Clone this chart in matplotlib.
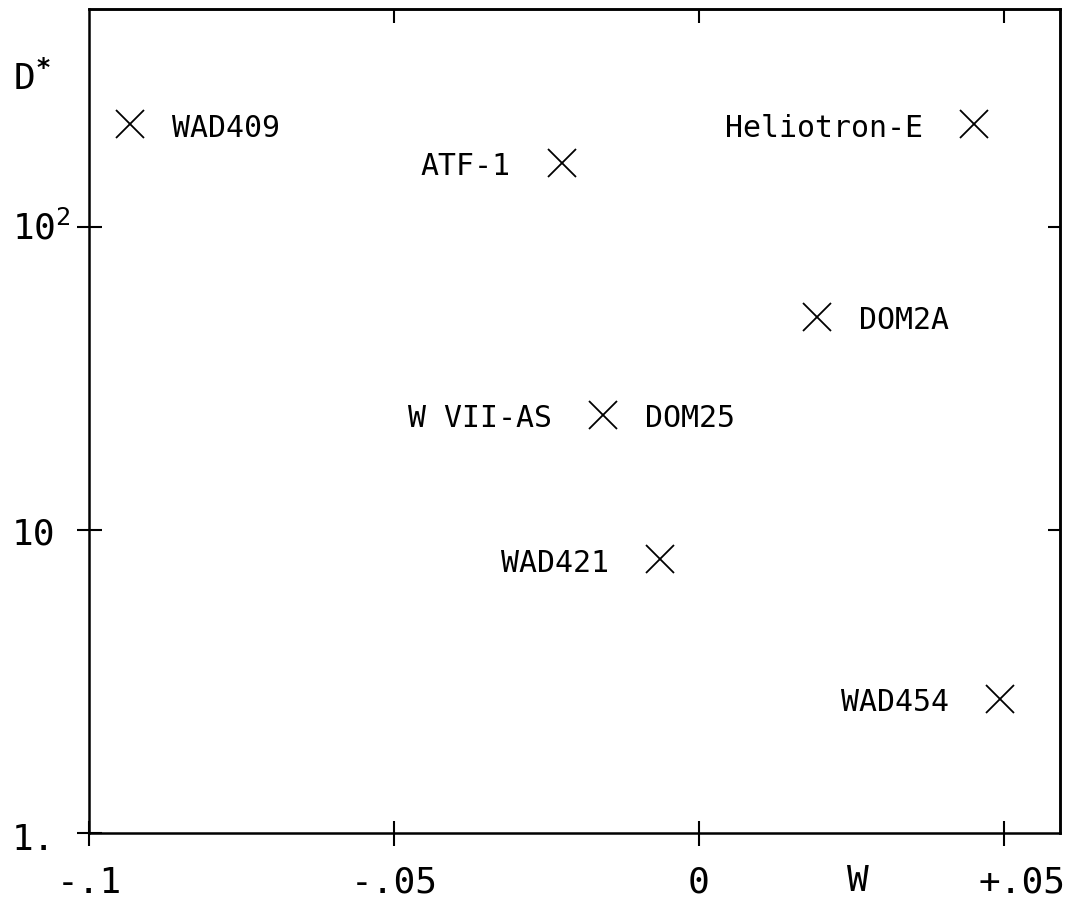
import matplotlib
matplotlib.use("Agg")
import matplotlib.pyplot as plt
from matplotlib.transforms import ScaledTranslation
from matplotlib.ticker import FixedLocator, NullLocator

plt.rcParams['font.family'] = ['DejaVu Sans Mono']
plt.rcParams['mathtext.fontset'] = 'custom'
plt.rcParams['mathtext.rm'] = 'DejaVu Sans Mono'
plt.rcParams['mathtext.it'] = 'DejaVu Sans Mono'
plt.rcParams['mathtext.bf'] = 'DejaVu Sans Mono:bold'

# configurations: rotational transform W and figure of merit D*
names = ['WAD409', 'ATF-1', 'Heliotron-E', 'DOM2A', 'W VII-AS', 'WAD421', 'WAD454']
w_vals = [-0.0933, -0.0225, 0.0451, 0.0194, -0.0157, -0.0064, 0.0494]
d_vals = [218, 163, 218, 50.5, 24.0, 8.0, 2.77]
# which side of the marker each name is written on
sides = ['right', 'left', 'left', 'right', 'left', 'left', 'left']
# second label sharing the W VII-AS point
extra_name = 'DOM25'

x_ticks = [-0.1, -0.05, 0.0, 0.05]
x_ticklabels = ['-.1', '-.05', '0', '+.05']
y_ticks = [1, 10, 100]
y_ticklabels = ['1.', '10', '10$^2$']
top_ticks = [-0.05, 0.0, 0.05]
right_ticks = [10, 100]

fig = plt.figure(figsize=(10.68, 9.04), dpi=100)
ax = fig.add_axes([89 / 1068, 1 - 834 / 904, 971 / 1068, 824 / 904])

ax.set_xscale('linear')
ax.set_yscale('log')
ax.set_xlim(-0.1, 0.0592)
ax.set_ylim(1, 524)

for s in ax.spines.values():
    s.set_linewidth(1.8)

ax.plot(w_vals, d_vals, linestyle='none', marker='x', markersize=20,
        markeredgewidth=1.3, color='black')

for name, w, d, side in zip(names, w_vals, d_vals, sides):
    if side == 'right':
        ax.annotate(name, (w, d), xytext=(30, 0), textcoords='offset points',
                    ha='left', va='center_baseline', fontsize=21.5)
    else:
        ax.annotate(name, (w, d), xytext=(-37, 0), textcoords='offset points',
                    ha='right', va='center_baseline', fontsize=21.5)
ax.annotate(extra_name, (w_vals[4], d_vals[4]), xytext=(30, 0),
            textcoords='offset points', ha='left', va='center_baseline',
            fontsize=21.5)

# bottom / left axes: crossing ticks with labels
ax.xaxis.set_major_locator(FixedLocator(x_ticks))
ax.set_xticklabels(x_ticklabels)
ax.yaxis.set_major_locator(FixedLocator(y_ticks))
ax.yaxis.set_minor_locator(NullLocator())
ax.set_yticklabels(y_ticklabels)
ax.tick_params(axis='both', which='major', direction='inout', length=18,
               width=1.5, labelsize=26, top=False, right=False)
ax.tick_params(axis='x', pad=14)
ax.tick_params(axis='y', pad=46.4)
for lab in ax.get_yticklabels():
    lab.set_horizontalalignment('left')

# top / right: short inward ticks only
sec_x = ax.secondary_xaxis('top')
sec_x.set_xticks(top_ticks)
sec_x.tick_params(direction='in', length=10, width=1.5, labeltop=False)
sec_y = ax.secondary_yaxis('right')
sec_y.set_yticks(right_ticks)
sec_y.yaxis.set_minor_locator(NullLocator())
sec_y.tick_params(direction='in', length=9, width=1.5, labelright=False)
sec_y.tick_params(which='minor', length=0)
for s in list(sec_x.spines.values()) + list(sec_y.spines.values()):
    s.set_linewidth(1.8)

# nudge the superscripted label and the "+.05" label
ytk = ax.yaxis.get_major_ticks()[2]
ytk.label1.set_transform(ytk.label1.get_transform()
                         + ScaledTranslation(0, 0.03, fig.dpi_scale_trans))
ytk = ax.yaxis.get_major_ticks()[0]
ytk.label1.set_transform(ytk.label1.get_transform()
                         + ScaledTranslation(0, -0.03, fig.dpi_scale_trans))
xtk = ax.xaxis.get_major_ticks()[3]
xtk.label1.set_transform(xtk.label1.get_transform()
                         + ScaledTranslation(0.18, 0, fig.dpi_scale_trans))

ax.set_xlabel('W', fontsize=26)
ax.xaxis.set_label_coords(0.792, -0.0522)
ax.xaxis.label.set_verticalalignment('center_baseline')

ax.set_ylabel(r'D$^{\mathbf{*}}$', fontsize=26, rotation=0)
ax.yaxis.set_label_coords(-0.0783, 0.9035)
ax.yaxis.label.set_horizontalalignment('left')
ax.yaxis.label.set_verticalalignment('baseline')

fig.savefig('out.png', dpi=100)
